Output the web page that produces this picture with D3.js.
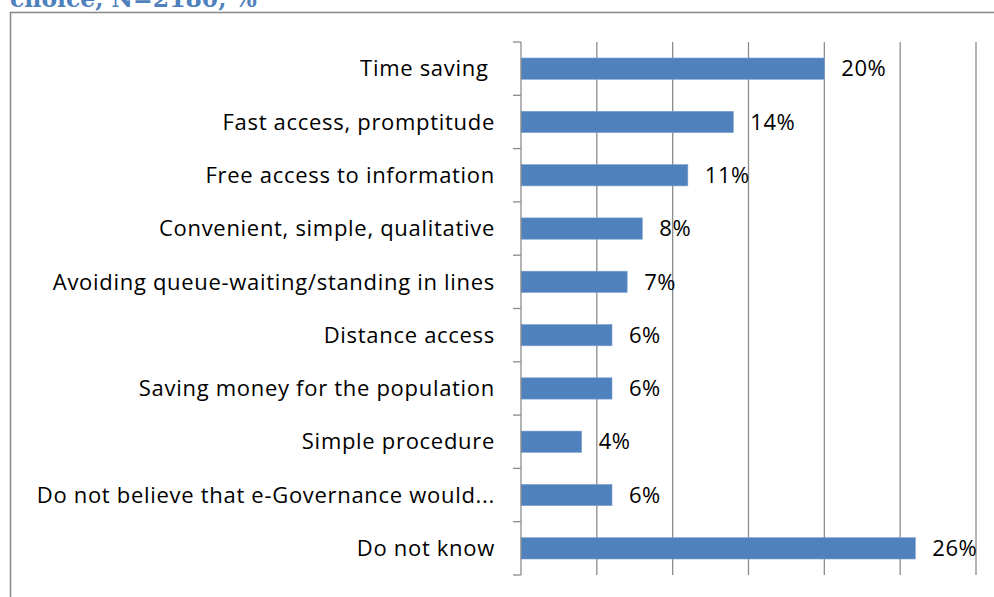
<!DOCTYPE html>
<html><head><meta charset="utf-8">
<script src="https://cdn.jsdelivr.net/npm/d3@7"></script>
<style>
html,body{margin:0;padding:0;background:#fff;overflow:hidden}
svg{display:block}
</style></head>
<body>
<svg id="chart" width="994" height="597"></svg>
<script>
const categories = [
  "Time saving ",
  "Fast access, promptitude",
  "Free access to information",
  "Convenient, simple, qualitative",
  "Avoiding queue-waiting/standing in lines",
  "Distance access",
  "Saving money for the population",
  "Simple procedure",
  "Do not believe that e-Governance would...",
  "Do not know"
];
const values = [20, 14, 11, 8, 7, 6, 6, 4, 6, 26];
const xTicks = [0, 5, 10, 15, 20, 25, 30];
const titleText = "choice, N=2180, %";

const svg = d3.select("#chart");
const fontLabel = "'Open Sans', 'Noto Sans', sans-serif";

// title (cut off at top in the reference)
svg.append("text")
  .attr("x", 10).attr("y", 7)
  .attr("font-family", "'DejaVu Serif', serif")
  .attr("font-weight", "bold")
  .attr("font-size", 23.5)
  .attr("fill", "#4f81bd")
  .text(titleText);

// frame
svg.append("rect")
  .attr("x", 10.5).attr("y", 12.5)
  .attr("width", 1000).attr("height", 700)
  .attr("fill", "none").attr("stroke", "#868686").attr("stroke-width", 1.5);

const x = d3.scaleLinear().domain([0, 30]).range([521, 976]);
const y = d3.scaleBand().domain(categories).range([42, 575]).paddingInner(0.6).paddingOuter(0.3);
const yEdge = d3.scaleLinear().domain([0, categories.length]).range([42, 575]);

// gridlines
svg.append("g").selectAll("line").data(xTicks.slice(1)).join("line")
  .attr("x1", d => x(d)).attr("x2", d => x(d))
  .attr("y1", 42).attr("y2", 575)
  .attr("stroke", "#8c8c8c").attr("stroke-width", 1.3);

// bars
svg.append("g").selectAll("rect").data(values).join("rect")
  .attr("x", x(0))
  .attr("y", (d, i) => y(categories[i]))
  .attr("width", d => x(d) - x(0))
  .attr("height", y.bandwidth())
  .attr("fill", "#4f81bd")
  .attr("stroke", "#7ea2d2").attr("stroke-width", 0.6);

// axis line
svg.append("line")
  .attr("x1", x(0)).attr("x2", x(0)).attr("y1", 42).attr("y2", 575)
  .attr("stroke", "#8c8c8c").attr("stroke-width", 1.3);

// ticks at band edges
svg.append("g").selectAll("line").data(d3.range(categories.length + 1)).join("line")
  .attr("x1", x(0) - 8).attr("x2", x(0))
  .attr("y1", d => yEdge(d)).attr("y2", d => yEdge(d))
  .attr("stroke", "#8c8c8c").attr("stroke-width", 1.3);

// category labels
svg.append("g").selectAll("text").data(categories).join("text")
  .attr("x", 495)
  .attr("y", d => y(d) + y.bandwidth() / 2)
  .attr("dy", "0.35em")
  .attr("text-anchor", "end")
  .attr("font-family", fontLabel)
  .attr("font-size", 22)
  .attr("letter-spacing", 0.7)
  .attr("fill", "#000")
  .style("white-space", "pre")
  .text(d => d);

// value labels
svg.append("g").selectAll("text").data(values).join("text")
  .attr("x", d => x(d) + 17)
  .attr("y", (d, i) => y(categories[i]) + y.bandwidth() / 2)
  .attr("dy", "0.35em")
  .attr("font-family", fontLabel)
  .attr("font-size", 22)
  .attr("letter-spacing", 0.5)
  .attr("fill", "#000")
  .text(d => d + "%");
</script>
</body></html>
